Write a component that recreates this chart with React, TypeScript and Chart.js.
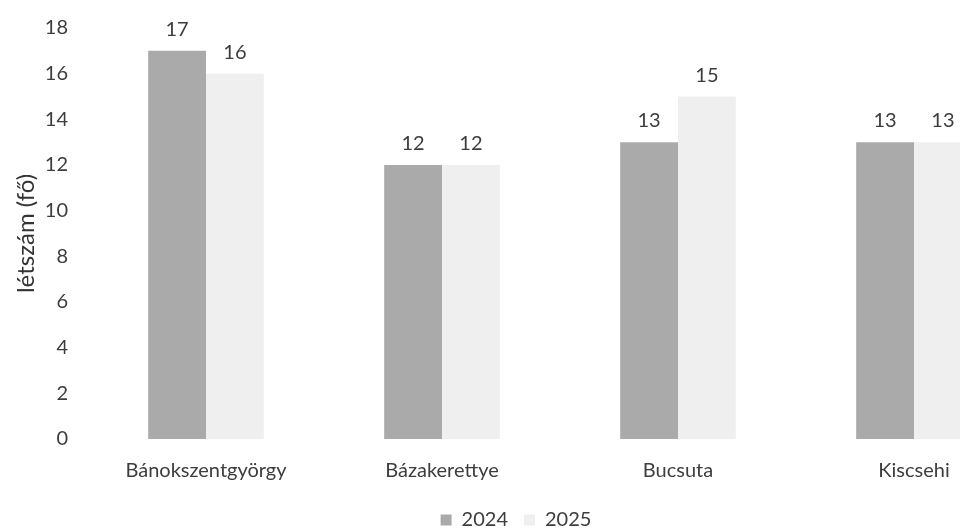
import React, { useEffect, useRef } from "react";
import { Chart, registerables } from "chart.js";

Chart.register(...registerables);

const categories = ["Bánokszentgyörgy", "Bázakerettye", "Bucsuta", "Kiscsehi"];
const values2024 = [17, 12, 13, 13];
const values2025 = [16, 12, 15, 13];
const seriesLabels = ["2024", "2025"];
const yTitle = "létszám (fő)";

const FONT = "Lato, 'Open Sans', sans-serif";
const TEXT = "#3d3d3d";

const valueLabels = {
  id: "valueLabels",
  afterDatasetsDraw(chart: any) {
    const ctx = chart.ctx;
    ctx.save();
    ctx.font = `20px ${FONT}`;
    ctx.fillStyle = TEXT;
    ctx.textAlign = "center";
    ctx.textBaseline = "alphabetic";
    chart.data.datasets.forEach((ds: any, i: number) => {
      const meta = chart.getDatasetMeta(i);
      meta.data.forEach((bar: any, j: number) => {
        ctx.fillText(String(ds.data[j]), bar.x, bar.y - 15);
      });
    });
    ctx.restore();
  },
};

export default function App() {
  const ref = useRef<HTMLCanvasElement | null>(null);
  useEffect(() => {
    document.body.style.margin = "0";
    const chart = new Chart(ref.current as HTMLCanvasElement, {
      type: "bar",
      data: {
        labels: categories,
        datasets: [
          { label: seriesLabels[0], data: values2024, backgroundColor: "#aaaaaa", categoryPercentage: 0.49, barPercentage: 1 },
          { label: seriesLabels[1], data: values2025, backgroundColor: "#efefef", categoryPercentage: 0.49, barPercentage: 1 },
        ],
      },
      options: {
        animation: false,
        responsive: false,
        layout: { padding: { top: 23, right: 8, bottom: 0, left: 0 } },
        plugins: {
          legend: {
            position: "bottom",
            labels: {
              font: { family: FONT, size: 20 },
              color: TEXT,
              boxWidth: 11,
              boxHeight: 11,
              padding: 16,
            },
          },
          tooltip: { enabled: false },
        },
        scales: {
          x: {
            grid: { display: false, drawTicks: false },
            border: { display: false },
            ticks: { font: { family: FONT, size: 20 }, color: TEXT, padding: 20 },
            afterFit(scale: any) {
              scale.height = 55;
            },
          },
          y: {
            min: 0,
            max: 18,
            grid: { display: false, drawTicks: false },
            border: { display: false },
            ticks: { stepSize: 2, font: { family: FONT, size: 20 }, color: TEXT, padding: 20 },
            title: {
              display: true,
              text: yTitle,
              font: { family: FONT, size: 24 },
              color: "#333333",
              padding: { top: 12, bottom: 0 },
            },
            afterFit(scale: any) {
              scale.width = 88;
            },
          },
        },
      },
      plugins: [valueLabels],
    } as any);
    return () => chart.destroy();
  }, []);
  return (
    <div style={{ position: "absolute", left: 0, top: 0, width: 960, height: 529, overflow: "hidden", background: "#fff" }}>
      <canvas ref={ref} width={1040} height={544} style={{ width: 1040, height: 544, display: "block", marginTop: -4 }} />
    </div>
  );
}
